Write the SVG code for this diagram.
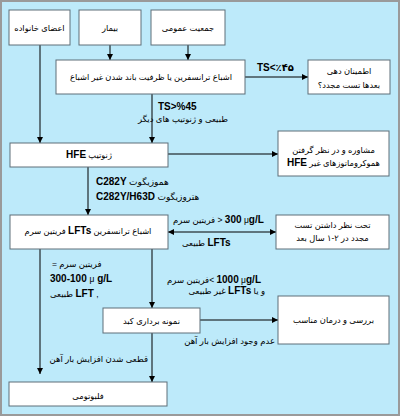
<svg xmlns="http://www.w3.org/2000/svg" width="400" height="416" viewBox="0 0 400 416">
<defs>
<marker id="ah" viewBox="0 0 6 6" refX="6" refY="3" markerWidth="6" markerHeight="6" markerUnits="userSpaceOnUse" orient="auto-start-reverse">
<path d="M0,0 L6,3 L0,6 z" fill="#000"/>
</marker>
<style>
.bg{fill:#bdeafa;stroke:#9a9a9a;stroke-width:2}
.box{fill:#fff;stroke:#5e6e78;stroke-width:1}
.c{stroke:#000;stroke-width:1;fill:none;marker-end:url(#ah)}
text{font-family:"Liberation Sans","DejaVu Sans",sans-serif;font-size:9px;fill:#000}
.n{font-size:8.3px}
.s{font-size:8.5px}
.b{font-weight:bold;font-size:10px}
</style>
</defs>
<rect class="bg" x="1" y="1" width="398" height="414"/>
<g id="connectors">
<line class="c" x1="40" y1="45" x2="40" y2="143"/>
<line class="c" x1="110" y1="45" x2="110" y2="60"/>
<line class="c" x1="188" y1="45" x2="188" y2="60"/>
<line class="c" x1="152" y1="94" x2="152" y2="143"/>
<line class="c" x1="245" y1="77" x2="308" y2="77"/>
<line class="c" x1="168" y1="154" x2="278" y2="154"/>
<line class="c" x1="88" y1="167" x2="88" y2="215"/>
<line class="c" x1="168" y1="232" x2="276" y2="232" style="marker-start:url(#ah)"/>
<line class="c" x1="40" y1="249" x2="40" y2="374"/>
<line class="c" x1="152" y1="249" x2="152" y2="308"/>
<line class="c" x1="200" y1="320" x2="278" y2="320"/>
<line class="c" x1="152" y1="333" x2="152" y2="382"/>
<text class="b" x="257" y="71">TS&lt;٪۴۵</text>
<text class="b" x="158" y="110">TS&gt;%45</text>
<text class="s" x="228" y="122" direction="rtl" text-anchor="start">طبیعی و ژنوتیپ های دیگر</text>
<text x="96" y="185"><tspan class="b">C282Y</tspan>   هموزیگوت</text>
<text x="96" y="200"><tspan class="b">C282Y/H63D</tspan> هتروزیگوت</text>
<text class="s" x="173" y="223">فریتین سرم&#x200E; &gt; <tspan class="b">300</tspan> μ<tspan class="b">g/L</tspan></text>
<text class="s" x="182" y="246">طبیعی <tspan class="b">LFTs</tspan></text>
<text class="s" x="52" y="267" direction="rtl" text-anchor="end">فریتین سرم =</text>
<text class="b" x="50" y="282">300-100 <tspan class="s" font-weight="normal">μ</tspan> g/L</text>
<text class="s" x="50" y="297">طبیعی <tspan class="b">LFT</tspan> ,</text>
<text class="s" x="167" y="283">فریتین سرم&#x200E;&lt; <tspan class="b">1000</tspan> μ<tspan class="b">g/L</tspan></text>
<text class="s" x="265" y="294" direction="rtl" text-anchor="start">و یا <tspan class="b">LFTs</tspan> غیر طبیعی</text>
<text class="s" x="275" y="344" direction="rtl" text-anchor="start">عدم وجود افزایش بار آهن</text>
<text class="s" x="148" y="362" direction="rtl" text-anchor="start">قطعی شدن افزایش بار آهن</text>
</g>
<g id="n-family"><rect class="box" x="9" y="10" width="61" height="35"/><text class="n" x="39.5" y="31" text-anchor="middle" direction="rtl">اعضای خانواده</text></g>
<g id="n-patient"><rect class="box" x="79" y="10" width="62" height="35"/><text class="n" x="110" y="31" text-anchor="middle" direction="rtl">بیمار</text></g>
<g id="n-public"><rect class="box" x="151" y="10" width="74" height="35"/><text class="n" x="188" y="31" text-anchor="middle" direction="rtl">جمعیت عمومی</text></g>
<g id="n-ts"><rect class="box" x="56" y="60" width="189" height="34"/><text class="n" x="151" y="80" text-anchor="middle" direction="rtl">اشباع ترانسفرین یا ظرفیت باند شدن غیر اشباع</text></g>
<g id="n-reassure"><rect class="box" x="308" y="60" width="82" height="34"/><text class="n" x="349" y="74" text-anchor="middle" direction="rtl">اطمینان دهی</text><text class="n" x="349" y="88" text-anchor="middle" direction="rtl">بعدها تست مجدد؟</text></g>
<g id="n-hfe"><rect class="box" x="10" y="143" width="158" height="24"/><text class="n" x="89" y="158" text-anchor="middle" direction="rtl">ژنوتیپ <tspan class="b">HFE</tspan></text></g>
<g id="n-counsel"><rect class="box" x="278" y="131" width="111" height="45"/><text class="n" x="333.5" y="153" text-anchor="middle" direction="rtl">مشاوره و در نظر گرفتن</text><text class="n" x="333.5" y="166" text-anchor="middle" direction="rtl">هموکروماتوزهای غیر <tspan class="b">HFE</tspan></text></g>
<g id="n-lfts"><rect class="box" x="10" y="215" width="158" height="34"/><text class="n" x="88" y="234" text-anchor="middle" direction="rtl">اشباع ترانسفرین <tspan class="b">LFTs</tspan> فریتین سرم</text></g>
<g id="n-watch"><rect class="box" x="276" y="215" width="113" height="34"/><text class="n" x="332.5" y="228" text-anchor="middle" direction="rtl">تحت نظر داشتن تست</text><text class="n" x="332.5" y="241" text-anchor="middle" direction="rtl">مجدد در ۲-۱ سال بعد</text></g>
<g id="n-biopsy"><rect class="box" x="103" y="308" width="97" height="25"/><text class="n" x="151.5" y="324" text-anchor="middle" direction="rtl">نمونه برداری کبد</text></g>
<g id="n-eval"><rect class="box" x="278" y="296" width="111" height="48"/><text class="n" x="333.5" y="323" text-anchor="middle" direction="rtl">بررسی و درمان مناسب</text></g>
<g id="n-phleb"><rect class="box" x="9" y="382" width="158" height="24"/><text class="n" x="88" y="399" text-anchor="middle" direction="rtl">فلبوتومی</text></g>
</svg>
